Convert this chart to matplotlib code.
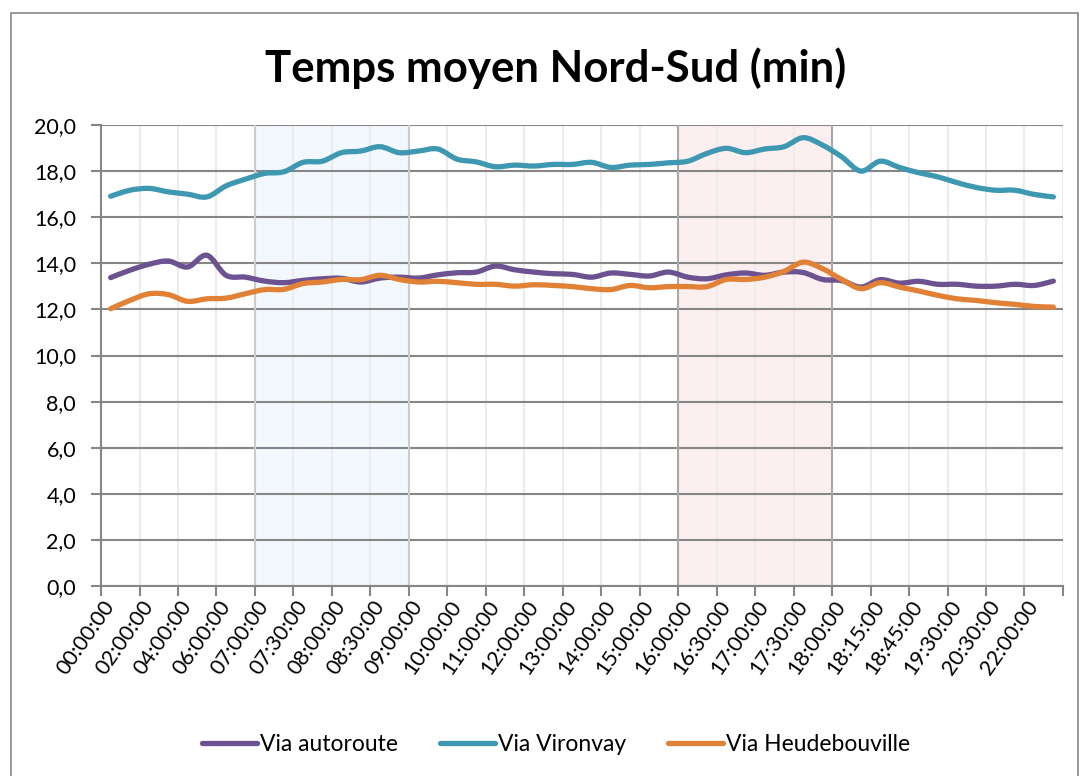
import matplotlib.pyplot as plt
from matplotlib.path import Path
from matplotlib.patches import PathPatch, Rectangle
from matplotlib.lines import Line2D
from matplotlib.ticker import FixedLocator, FuncFormatter

# Data
times = ["00:00:00", "01:00:00", "02:00:00", "03:00:00", "04:00:00", "05:00:00",
         "06:00:00", "06:30:00", "07:00:00", "07:15:00", "07:30:00", "07:45:00",
         "08:00:00", "08:15:00", "08:30:00", "08:45:00", "09:00:00", "09:30:00",
         "10:00:00", "10:30:00", "11:00:00", "11:30:00", "12:00:00", "12:30:00",
         "13:00:00", "13:30:00", "14:00:00", "14:30:00", "15:00:00", "15:30:00",
         "16:00:00", "16:15:00", "16:30:00", "16:45:00", "17:00:00", "17:15:00",
         "17:30:00", "17:45:00", "18:00:00", "18:10:00", "18:15:00", "18:30:00",
         "18:45:00", "19:00:00", "19:30:00", "20:00:00", "20:30:00", "21:00:00",
         "22:00:00", "23:00:00"]

autoroute = [13.38, 13.70, 13.96, 14.10, 13.84, 14.35, 13.48, 13.40, 13.23, 13.16,
             13.26, 13.33, 13.35, 13.19, 13.36, 13.40, 13.36, 13.50, 13.59, 13.62,
             13.88, 13.72, 13.62, 13.55, 13.52, 13.40, 13.58, 13.52, 13.45, 13.62,
             13.40, 13.33, 13.50, 13.58, 13.48, 13.62, 13.60, 13.30, 13.25, 12.97,
             13.29, 13.14, 13.22, 13.09, 13.09, 13.01, 13.01, 13.09, 13.04, 13.23]

vironvay = [16.91, 17.17, 17.25, 17.10, 17.00, 16.88, 17.36, 17.65, 17.90, 17.97,
            18.38, 18.43, 18.80, 18.87, 19.06, 18.80, 18.87, 18.96, 18.52, 18.40,
            18.19, 18.26, 18.22, 18.29, 18.29, 18.38, 18.16, 18.26, 18.29, 18.36,
            18.43, 18.77, 18.99, 18.80, 18.96, 19.06, 19.45, 19.13, 18.62, 18.00,
            18.43, 18.16, 17.93, 17.75, 17.50, 17.29, 17.17, 17.17, 16.99, 16.88]

heudebouville = [12.03, 12.39, 12.68, 12.64, 12.35, 12.46, 12.49, 12.68, 12.86, 12.87,
                 13.12, 13.19, 13.30, 13.29, 13.48, 13.30, 13.19, 13.22, 13.16, 13.09,
                 13.09, 13.01, 13.07, 13.04, 12.99, 12.90, 12.86, 13.04, 12.94, 12.99,
                 12.99, 12.99, 13.30, 13.30, 13.40, 13.65, 14.05, 13.77, 13.30, 12.90,
                 13.16, 12.97, 12.80, 12.61, 12.46, 12.39, 12.29, 12.22, 12.13, 12.10]

series = [("Via autoroute", autoroute, "#6c5291"),
          ("Via Vironvay", vironvay, "#3f98b1"),
          ("Via Heudebouville", heudebouville, "#e08136")]

morning = ("07:00:00", "08:45:00")
evening = ("16:00:00", "17:45:00")

plt.rcParams['font.family'] = ['Lato', 'DejaVu Sans']


def smooth_path(ys):
    # Excel-like smoothed line: cubic Bezier through every point
    n = len(ys)
    pts = list(zip(range(n), ys))
    verts = [pts[0]]
    codes = [Path.MOVETO]
    for i in range(n - 1):
        p0 = pts[max(i - 1, 0)]
        p1 = pts[i]
        p2 = pts[i + 1]
        p3 = pts[min(i + 2, n - 1)]
        c1 = (p1[0] + (p2[0] - p0[0]) / 6, p1[1] + (p2[1] - p0[1]) / 6)
        c2 = (p2[0] - (p3[0] - p1[0]) / 6, p2[1] - (p3[1] - p1[1]) / 6)
        verts += [c1, c2, p2]
        codes += [Path.CURVE4] * 3
    return Path(verts, codes)


fig = plt.figure(figsize=(10.84, 7.76), dpi=100)
ax = fig.add_axes([0.0932, 0.2448, 0.8874, 0.5941])

# shaded peak periods
for (start, end), face, edge in [(morning, "#f3f8fe", "#cccccc"),
                                 (evening, "#fbefef", "#a8a8a8")]:
    a = times.index(start) - 0.5
    b = times.index(end) + 0.5
    ax.axvspan(a, b, facecolor=face, edgecolor="none", zorder=0)
    ax.axvline(a, color=edge, lw=1.5, zorder=1)
    ax.axvline(b, color=edge, lw=1.5, zorder=1)

handles = []
for name, ys, col in series:
    ax.add_patch(PathPatch(smooth_path(ys), fill=False, edgecolor=col,
                           lw=3.8, capstyle='round', joinstyle='round', zorder=3))
    handles.append(Line2D([], [], color=col, lw=3.8, solid_capstyle='round', label=name))

n = len(times)
ax.set_xlim(-0.5, n - 0.5)
ax.set_ylim(0, 20)

# y axis
ax.set_yticks(range(0, 21, 2))
ax.yaxis.set_major_formatter(FuncFormatter(lambda v, p: f"{v:.1f}".replace(".", ",")))
ax.grid(axis='y', color="#868686", lw=1.5, zorder=1)

# x axis: ticks between every two categories, labels on even categories
ax.xaxis.set_major_locator(FixedLocator([i - 0.5 for i in range(0, n + 1, 2)]))
ax.xaxis.set_minor_locator(FixedLocator(list(range(0, n, 2))))
ax.xaxis.set_major_formatter(FuncFormatter(lambda v, p: ""))
ax.set_xticklabels(times[::2], minor=True, rotation=55, ha='right', va='center',
                   rotation_mode='anchor')
ax.tick_params(axis='x', which='minor', length=0, pad=12, labelsize=15.5)
ax.tick_params(axis='x', which='major', length=7, width=1.5, color="#868686")
ax.tick_params(axis='y', length=7, width=1.5, color="#868686", pad=11, labelsize=15.5)
ax.grid(axis='x', which='major', color="#ececec", lw=1.5, zorder=1)
ax.set_axisbelow(True)

for s in ["top", "right"]:
    ax.spines[s].set_visible(False)
for s in ["left", "bottom"]:
    ax.spines[s].set_color("#868686")
    ax.spines[s].set_linewidth(1.5)

fig.text(0.513, 0.912, "Temps moyen Nord-Sud (min)", ha='center', va='center',
         fontsize=31.5, fontweight='bold')

fig.legend(handles=handles, loc='center', bbox_to_anchor=(0.513, 0.04), ncol=3,
           frameon=False, fontsize=16.5, handlelength=2.4, handletextpad=0.15,
           columnspacing=1.8)

# outer chart border
fig.patches.append(Rectangle((11 / 1084, -0.01), 1067 / 1084, 1 - 13 / 776 + 0.01,
                             transform=fig.transFigure, fill=False,
                             edgecolor="#888888", lw=1.2))

fig.savefig("out.png", dpi=100)
